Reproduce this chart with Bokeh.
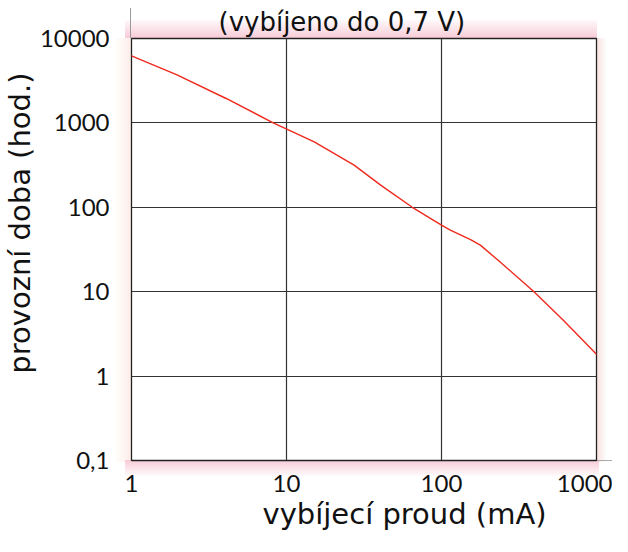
from bokeh.plotting import figure
from bokeh.models import Range1d, FixedTicker, CustomJSTickFormatter, Title
from bokeh.embed import file_html
from bokeh.resources import INLINE

# data (log-log curve)
current_ma = [1, 1.95, 4.08, 8.15, 15.1, 27.3, 40.5, 64.8, 100, 114, 154, 178, 239, 392, 611, 1000]
runtime_h = [6230, 3740, 1946, 1010, 596, 316, 183, 100, 61.4, 53.6, 41.5, 35.6, 22.5, 10.1, 4.59, 1.82]

x_ticks = [1, 10, 100, 1000]
y_ticks = [0.1, 1, 10, 100, 1000, 10000]

title_text = "(vybíjeno do 0,7 V)"
x_label = "vybíjecí proud (mA)"
y_label = "provozní doba (hod.)"

TICK_FONT = "Lato"
LABEL_FONT = "DejaVu Sans"

p = figure(width=612, height=536, output_backend="svg", toolbar_location=None,
           x_axis_type="log", y_axis_type="log",
           x_range=Range1d(1, 1000), y_range=Range1d(0.1, 10000),
           min_border_left=131, min_border_right=16, min_border_top=38,
           min_border_bottom=76)

p.background_fill_color = "white"
p.border_fill_color = None
p.outline_line_color = "#222222"
p.outline_line_width = 1.3

# soft pinkish glow around the frame (page decoration behind the canvas)
p.styles = {"background": ", ".join([
    "linear-gradient(#999999, #999999) 130px 8px / 1px 30px no-repeat",
    "linear-gradient(#aaaaaa, #aaaaaa) 596px 460px / 16px 1px no-repeat",
    "linear-gradient(to bottom, rgba(250,225,232,0.2), rgba(246,190,205,0.8)) 125px 20px / 472px 18px no-repeat",
    "linear-gradient(to bottom, rgba(246,190,205,0.8), rgba(250,225,232,0.15)) 125px 460px / 474px 16px no-repeat",
    "linear-gradient(to right, rgba(255,252,235,0.2), rgba(250,222,215,0.55)) 115px 38px / 16px 424px no-repeat",
    "linear-gradient(to right, rgba(246,205,200,0.6), rgba(240,240,240,0.2)) 596px 38px / 10px 424px no-repeat",
    "white",
])}

for ax in (p.xaxis[0], p.yaxis[0]):
    ax.axis_line_color = None
    ax.major_tick_line_color = None
    ax.minor_tick_line_color = None
    ax.major_label_text_font = TICK_FONT
    ax.major_label_text_font_size = "24px"
    ax.major_label_text_color = "#111111"

p.xaxis.ticker = FixedTicker(ticks=x_ticks)
p.yaxis.ticker = FixedTicker(ticks=y_ticks)
p.xaxis.major_label_standoff = 8
p.yaxis.major_label_standoff = 16
fmt = CustomJSTickFormatter(code="return tick < 1 ? String(tick).replace('.', ',') : String(Math.round(tick));")
p.xaxis.formatter = fmt
p.yaxis.formatter = fmt

p.xgrid.ticker = FixedTicker(ticks=x_ticks)
p.ygrid.ticker = FixedTicker(ticks=y_ticks)
p.xgrid.grid_line_color = "#333333"
p.ygrid.grid_line_color = "#333333"
p.xgrid.grid_line_width = 1.2
p.ygrid.grid_line_width = 1.2
p.xgrid.minor_grid_line_color = None
p.ygrid.minor_grid_line_color = None

p.line(current_ma, runtime_h, line_color="#ee2a1e", line_width=1.4,
       line_join="round", line_cap="round")

p.title.text = title_text
p.title.align = "left"
p.title.offset = 87
p.title.standoff = 0
p.title.vertical_align = "top"
p.title.text_font = LABEL_FONT
p.title.text_font_size = "26px"
p.title.text_font_style = "normal"
p.title.text_color = "#111111"

p.add_layout(Title(text=x_label, align="left", offset=131, standoff=0,
                   text_font=LABEL_FONT, text_font_size="29px", text_font_style="normal",
                   text_color="#111111"), "below")
p.add_layout(Title(text=y_label, align="right", offset=34, standoff=0,
                   text_font=LABEL_FONT, text_font_size="29px", text_font_style="normal",
                   text_color="#111111"), "left")

open("out.html", "w").write(file_html(p, INLINE))
